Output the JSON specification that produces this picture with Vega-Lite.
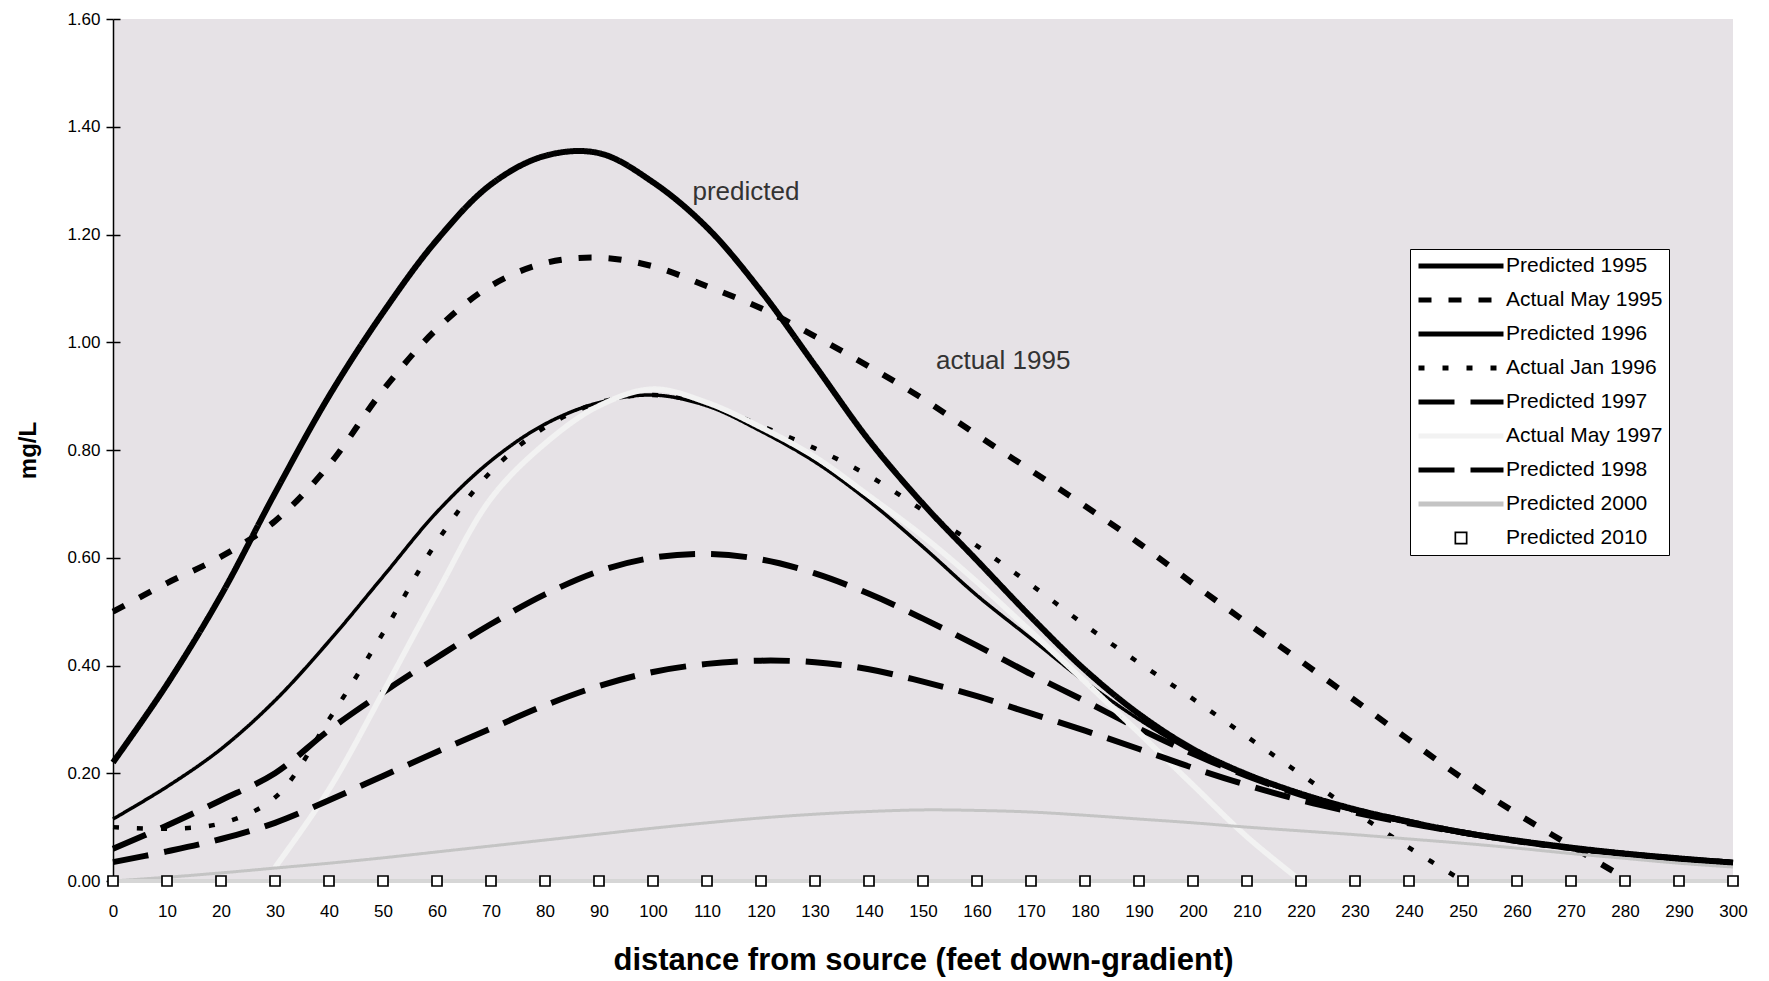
{
  "$schema": "https://vega.github.io/schema/vega-lite/v6.json",
  "width": 1620,
  "height": 862,
  "autosize": {"type": "none"},
  "padding": {"left": 113, "top": 19, "right": 36, "bottom": 100},
  "background": "white",
  "config": {
    "font": "Liberation Sans",
    "view": {"fill": "#e6e2e6", "stroke": null},
    "axis": {"grid": false, "labelFont": "Liberation Sans", "titleFont": "Liberation Sans", "labelColor": "black", "titleColor": "black"},
    "legend": {
      "orient": "none", "legendX": 1297, "legendY": 230, "padding": 6,
      "strokeColor": "black", "fillColor": "white",
      "symbolType": "stroke", "symbolSize": 7225, "symbolStrokeWidth": 5,
      "clipHeight": 22, "rowPadding": 12,
      "labelFontSize": 21, "labelFont": "Liberation Sans", "labelColor": "black",
      "labelOffset": 0, "labelLimit": 300
    }
  },
  "datasets": {
    "curves": [
      {"series": "Predicted 1995", "d": 0, "v": 0.22}, {"series": "Predicted 1995", "d": 10, "v": 0.365}, {"series": "Predicted 1995", "d": 20, "v": 0.53}, {"series": "Predicted 1995", "d": 30, "v": 0.72}, {"series": "Predicted 1995", "d": 40, "v": 0.9}, {"series": "Predicted 1995", "d": 50, "v": 1.055}, {"series": "Predicted 1995", "d": 60, "v": 1.19}, {"series": "Predicted 1995", "d": 70, "v": 1.293}, {"series": "Predicted 1995", "d": 80, "v": 1.346}, {"series": "Predicted 1995", "d": 90, "v": 1.351}, {"series": "Predicted 1995", "d": 100, "v": 1.297}, {"series": "Predicted 1995", "d": 110, "v": 1.213}, {"series": "Predicted 1995", "d": 120, "v": 1.095}, {"series": "Predicted 1995", "d": 130, "v": 0.957}, {"series": "Predicted 1995", "d": 140, "v": 0.818}, {"series": "Predicted 1995", "d": 150, "v": 0.7}, {"series": "Predicted 1995", "d": 160, "v": 0.595}, {"series": "Predicted 1995", "d": 170, "v": 0.49}, {"series": "Predicted 1995", "d": 180, "v": 0.392}, {"series": "Predicted 1995", "d": 190, "v": 0.31}, {"series": "Predicted 1995", "d": 200, "v": 0.245}, {"series": "Predicted 1995", "d": 210, "v": 0.198}, {"series": "Predicted 1995", "d": 220, "v": 0.162}, {"series": "Predicted 1995", "d": 230, "v": 0.133}, {"series": "Predicted 1995", "d": 240, "v": 0.11}, {"series": "Predicted 1995", "d": 250, "v": 0.09}, {"series": "Predicted 1995", "d": 260, "v": 0.075}, {"series": "Predicted 1995", "d": 270, "v": 0.062}, {"series": "Predicted 1995", "d": 280, "v": 0.051}, {"series": "Predicted 1995", "d": 290, "v": 0.042}, {"series": "Predicted 1995", "d": 300, "v": 0.034},

      {"series": "Actual May 1995", "d": 0, "v": 0.5}, {"series": "Actual May 1995", "d": 10, "v": 0.553}, {"series": "Actual May 1995", "d": 20, "v": 0.602}, {"series": "Actual May 1995", "d": 30, "v": 0.668}, {"series": "Actual May 1995", "d": 40, "v": 0.772}, {"series": "Actual May 1995", "d": 50, "v": 0.911}, {"series": "Actual May 1995", "d": 60, "v": 1.025}, {"series": "Actual May 1995", "d": 70, "v": 1.105}, {"series": "Actual May 1995", "d": 80, "v": 1.147}, {"series": "Actual May 1995", "d": 90, "v": 1.157}, {"series": "Actual May 1995", "d": 100, "v": 1.141}, {"series": "Actual May 1995", "d": 110, "v": 1.104}, {"series": "Actual May 1995", "d": 120, "v": 1.063}, {"series": "Actual May 1995", "d": 130, "v": 1.011}, {"series": "Actual May 1995", "d": 140, "v": 0.955}, {"series": "Actual May 1995", "d": 150, "v": 0.895}, {"series": "Actual May 1995", "d": 160, "v": 0.828}, {"series": "Actual May 1995", "d": 170, "v": 0.762}, {"series": "Actual May 1995", "d": 180, "v": 0.696}, {"series": "Actual May 1995", "d": 190, "v": 0.627}, {"series": "Actual May 1995", "d": 200, "v": 0.552}, {"series": "Actual May 1995", "d": 210, "v": 0.479}, {"series": "Actual May 1995", "d": 220, "v": 0.408}, {"series": "Actual May 1995", "d": 230, "v": 0.335}, {"series": "Actual May 1995", "d": 240, "v": 0.262}, {"series": "Actual May 1995", "d": 250, "v": 0.19}, {"series": "Actual May 1995", "d": 260, "v": 0.125}, {"series": "Actual May 1995", "d": 270, "v": 0.065}, {"series": "Actual May 1995", "d": 280, "v": 0.005},

      {"series": "Predicted 1996", "d": 0, "v": 0.115}, {"series": "Predicted 1996", "d": 10, "v": 0.175}, {"series": "Predicted 1996", "d": 20, "v": 0.245}, {"series": "Predicted 1996", "d": 30, "v": 0.335}, {"series": "Predicted 1996", "d": 40, "v": 0.445}, {"series": "Predicted 1996", "d": 50, "v": 0.565}, {"series": "Predicted 1996", "d": 60, "v": 0.685}, {"series": "Predicted 1996", "d": 70, "v": 0.78}, {"series": "Predicted 1996", "d": 80, "v": 0.848}, {"series": "Predicted 1996", "d": 90, "v": 0.888}, {"series": "Predicted 1996", "d": 100, "v": 0.902}, {"series": "Predicted 1996", "d": 110, "v": 0.882}, {"series": "Predicted 1996", "d": 120, "v": 0.835}, {"series": "Predicted 1996", "d": 130, "v": 0.778}, {"series": "Predicted 1996", "d": 140, "v": 0.705}, {"series": "Predicted 1996", "d": 150, "v": 0.62}, {"series": "Predicted 1996", "d": 160, "v": 0.53}, {"series": "Predicted 1996", "d": 170, "v": 0.45}, {"series": "Predicted 1996", "d": 180, "v": 0.37}, {"series": "Predicted 1996", "d": 190, "v": 0.3}, {"series": "Predicted 1996", "d": 200, "v": 0.24}, {"series": "Predicted 1996", "d": 210, "v": 0.195}, {"series": "Predicted 1996", "d": 220, "v": 0.16}, {"series": "Predicted 1996", "d": 230, "v": 0.13}, {"series": "Predicted 1996", "d": 240, "v": 0.107}, {"series": "Predicted 1996", "d": 250, "v": 0.088}, {"series": "Predicted 1996", "d": 260, "v": 0.073}, {"series": "Predicted 1996", "d": 270, "v": 0.06}, {"series": "Predicted 1996", "d": 280, "v": 0.05}, {"series": "Predicted 1996", "d": 290, "v": 0.041}, {"series": "Predicted 1996", "d": 300, "v": 0.033},

      {"series": "Actual Jan 1996", "d": 0, "v": 0.1}, {"series": "Actual Jan 1996", "d": 10, "v": 0.097}, {"series": "Actual Jan 1996", "d": 20, "v": 0.107}, {"series": "Actual Jan 1996", "d": 30, "v": 0.155}, {"series": "Actual Jan 1996", "d": 40, "v": 0.3}, {"series": "Actual Jan 1996", "d": 50, "v": 0.46}, {"series": "Actual Jan 1996", "d": 60, "v": 0.63}, {"series": "Actual Jan 1996", "d": 70, "v": 0.76}, {"series": "Actual Jan 1996", "d": 80, "v": 0.842}, {"series": "Actual Jan 1996", "d": 90, "v": 0.888}, {"series": "Actual Jan 1996", "d": 100, "v": 0.902}, {"series": "Actual Jan 1996", "d": 110, "v": 0.885}, {"series": "Actual Jan 1996", "d": 120, "v": 0.845}, {"series": "Actual Jan 1996", "d": 130, "v": 0.803}, {"series": "Actual Jan 1996", "d": 140, "v": 0.752}, {"series": "Actual Jan 1996", "d": 150, "v": 0.688}, {"series": "Actual Jan 1996", "d": 160, "v": 0.622}, {"series": "Actual Jan 1996", "d": 170, "v": 0.55}, {"series": "Actual Jan 1996", "d": 180, "v": 0.475}, {"series": "Actual Jan 1996", "d": 190, "v": 0.405}, {"series": "Actual Jan 1996", "d": 200, "v": 0.338}, {"series": "Actual Jan 1996", "d": 210, "v": 0.268}, {"series": "Actual Jan 1996", "d": 220, "v": 0.198}, {"series": "Actual Jan 1996", "d": 230, "v": 0.128}, {"series": "Actual Jan 1996", "d": 240, "v": 0.062}, {"series": "Actual Jan 1996", "d": 250, "v": 0.0},

      {"series": "Predicted 1997", "d": 0, "v": 0.06}, {"series": "Predicted 1997", "d": 10, "v": 0.103}, {"series": "Predicted 1997", "d": 20, "v": 0.15}, {"series": "Predicted 1997", "d": 30, "v": 0.2}, {"series": "Predicted 1997", "d": 40, "v": 0.28}, {"series": "Predicted 1997", "d": 50, "v": 0.35}, {"series": "Predicted 1997", "d": 60, "v": 0.415}, {"series": "Predicted 1997", "d": 70, "v": 0.477}, {"series": "Predicted 1997", "d": 80, "v": 0.532}, {"series": "Predicted 1997", "d": 90, "v": 0.575}, {"series": "Predicted 1997", "d": 100, "v": 0.6}, {"series": "Predicted 1997", "d": 110, "v": 0.607}, {"series": "Predicted 1997", "d": 120, "v": 0.597}, {"series": "Predicted 1997", "d": 130, "v": 0.571}, {"series": "Predicted 1997", "d": 140, "v": 0.533}, {"series": "Predicted 1997", "d": 150, "v": 0.487}, {"series": "Predicted 1997", "d": 160, "v": 0.437}, {"series": "Predicted 1997", "d": 170, "v": 0.384}, {"series": "Predicted 1997", "d": 180, "v": 0.334}, {"series": "Predicted 1997", "d": 190, "v": 0.283}, {"series": "Predicted 1997", "d": 200, "v": 0.236}, {"series": "Predicted 1997", "d": 210, "v": 0.195}, {"series": "Predicted 1997", "d": 220, "v": 0.16}, {"series": "Predicted 1997", "d": 230, "v": 0.132}, {"series": "Predicted 1997", "d": 240, "v": 0.11}, {"series": "Predicted 1997", "d": 250, "v": 0.09}, {"series": "Predicted 1997", "d": 260, "v": 0.074}, {"series": "Predicted 1997", "d": 270, "v": 0.061}, {"series": "Predicted 1997", "d": 280, "v": 0.05}, {"series": "Predicted 1997", "d": 290, "v": 0.041}, {"series": "Predicted 1997", "d": 300, "v": 0.034},

      {"series": "Actual May 1997", "d": 30, "v": 0.025}, {"series": "Actual May 1997", "d": 40, "v": 0.17}, {"series": "Actual May 1997", "d": 50, "v": 0.35}, {"series": "Actual May 1997", "d": 60, "v": 0.535}, {"series": "Actual May 1997", "d": 70, "v": 0.71}, {"series": "Actual May 1997", "d": 80, "v": 0.812}, {"series": "Actual May 1997", "d": 90, "v": 0.882}, {"series": "Actual May 1997", "d": 100, "v": 0.913}, {"series": "Actual May 1997", "d": 110, "v": 0.888}, {"series": "Actual May 1997", "d": 120, "v": 0.842}, {"series": "Actual May 1997", "d": 130, "v": 0.787}, {"series": "Actual May 1997", "d": 140, "v": 0.715}, {"series": "Actual May 1997", "d": 150, "v": 0.64}, {"series": "Actual May 1997", "d": 160, "v": 0.555}, {"series": "Actual May 1997", "d": 170, "v": 0.463}, {"series": "Actual May 1997", "d": 180, "v": 0.37}, {"series": "Actual May 1997", "d": 190, "v": 0.275}, {"series": "Actual May 1997", "d": 200, "v": 0.178}, {"series": "Actual May 1997", "d": 210, "v": 0.082}, {"series": "Actual May 1997", "d": 220, "v": 0.0},

      {"series": "Predicted 1998", "d": 0, "v": 0.035}, {"series": "Predicted 1998", "d": 10, "v": 0.055}, {"series": "Predicted 1998", "d": 20, "v": 0.078}, {"series": "Predicted 1998", "d": 30, "v": 0.108}, {"series": "Predicted 1998", "d": 40, "v": 0.15}, {"series": "Predicted 1998", "d": 50, "v": 0.195}, {"series": "Predicted 1998", "d": 60, "v": 0.24}, {"series": "Predicted 1998", "d": 70, "v": 0.283}, {"series": "Predicted 1998", "d": 80, "v": 0.326}, {"series": "Predicted 1998", "d": 90, "v": 0.362}, {"series": "Predicted 1998", "d": 100, "v": 0.388}, {"series": "Predicted 1998", "d": 110, "v": 0.403}, {"series": "Predicted 1998", "d": 120, "v": 0.409}, {"series": "Predicted 1998", "d": 130, "v": 0.406}, {"series": "Predicted 1998", "d": 140, "v": 0.393}, {"series": "Predicted 1998", "d": 150, "v": 0.37}, {"series": "Predicted 1998", "d": 160, "v": 0.343}, {"series": "Predicted 1998", "d": 170, "v": 0.311}, {"series": "Predicted 1998", "d": 180, "v": 0.279}, {"series": "Predicted 1998", "d": 190, "v": 0.245}, {"series": "Predicted 1998", "d": 200, "v": 0.21}, {"series": "Predicted 1998", "d": 210, "v": 0.178}, {"series": "Predicted 1998", "d": 220, "v": 0.15}, {"series": "Predicted 1998", "d": 230, "v": 0.127}, {"series": "Predicted 1998", "d": 240, "v": 0.107}, {"series": "Predicted 1998", "d": 250, "v": 0.09}, {"series": "Predicted 1998", "d": 260, "v": 0.074}, {"series": "Predicted 1998", "d": 270, "v": 0.061}, {"series": "Predicted 1998", "d": 280, "v": 0.05}, {"series": "Predicted 1998", "d": 290, "v": 0.041}, {"series": "Predicted 1998", "d": 300, "v": 0.034},

      {"series": "Predicted 2000", "d": 0, "v": 0.0}, {"series": "Predicted 2000", "d": 10, "v": 0.007}, {"series": "Predicted 2000", "d": 20, "v": 0.015}, {"series": "Predicted 2000", "d": 30, "v": 0.024}, {"series": "Predicted 2000", "d": 40, "v": 0.033}, {"series": "Predicted 2000", "d": 50, "v": 0.043}, {"series": "Predicted 2000", "d": 60, "v": 0.054}, {"series": "Predicted 2000", "d": 70, "v": 0.065}, {"series": "Predicted 2000", "d": 80, "v": 0.076}, {"series": "Predicted 2000", "d": 90, "v": 0.087}, {"series": "Predicted 2000", "d": 100, "v": 0.098}, {"series": "Predicted 2000", "d": 110, "v": 0.108}, {"series": "Predicted 2000", "d": 120, "v": 0.117}, {"series": "Predicted 2000", "d": 130, "v": 0.124}, {"series": "Predicted 2000", "d": 140, "v": 0.129}, {"series": "Predicted 2000", "d": 150, "v": 0.132}, {"series": "Predicted 2000", "d": 160, "v": 0.131}, {"series": "Predicted 2000", "d": 170, "v": 0.128}, {"series": "Predicted 2000", "d": 180, "v": 0.122}, {"series": "Predicted 2000", "d": 190, "v": 0.115}, {"series": "Predicted 2000", "d": 200, "v": 0.108}, {"series": "Predicted 2000", "d": 210, "v": 0.1}, {"series": "Predicted 2000", "d": 220, "v": 0.093}, {"series": "Predicted 2000", "d": 230, "v": 0.086}, {"series": "Predicted 2000", "d": 240, "v": 0.078}, {"series": "Predicted 2000", "d": 250, "v": 0.07}, {"series": "Predicted 2000", "d": 260, "v": 0.061}, {"series": "Predicted 2000", "d": 270, "v": 0.051}, {"series": "Predicted 2000", "d": 280, "v": 0.042}, {"series": "Predicted 2000", "d": 290, "v": 0.033}, {"series": "Predicted 2000", "d": 300, "v": 0.026},

      {"series": "Predicted 2010", "d": 0, "v": 0}, {"series": "Predicted 2010", "d": 10, "v": 0}, {"series": "Predicted 2010", "d": 20, "v": 0}, {"series": "Predicted 2010", "d": 30, "v": 0}, {"series": "Predicted 2010", "d": 40, "v": 0}, {"series": "Predicted 2010", "d": 50, "v": 0}, {"series": "Predicted 2010", "d": 60, "v": 0}, {"series": "Predicted 2010", "d": 70, "v": 0}, {"series": "Predicted 2010", "d": 80, "v": 0}, {"series": "Predicted 2010", "d": 90, "v": 0}, {"series": "Predicted 2010", "d": 100, "v": 0}, {"series": "Predicted 2010", "d": 110, "v": 0}, {"series": "Predicted 2010", "d": 120, "v": 0}, {"series": "Predicted 2010", "d": 130, "v": 0}, {"series": "Predicted 2010", "d": 140, "v": 0}, {"series": "Predicted 2010", "d": 150, "v": 0}, {"series": "Predicted 2010", "d": 160, "v": 0}, {"series": "Predicted 2010", "d": 170, "v": 0}, {"series": "Predicted 2010", "d": 180, "v": 0}, {"series": "Predicted 2010", "d": 190, "v": 0}, {"series": "Predicted 2010", "d": 200, "v": 0}, {"series": "Predicted 2010", "d": 210, "v": 0}, {"series": "Predicted 2010", "d": 220, "v": 0}, {"series": "Predicted 2010", "d": 230, "v": 0}, {"series": "Predicted 2010", "d": 240, "v": 0}, {"series": "Predicted 2010", "d": 250, "v": 0}, {"series": "Predicted 2010", "d": 260, "v": 0}, {"series": "Predicted 2010", "d": 270, "v": 0}, {"series": "Predicted 2010", "d": 280, "v": 0}, {"series": "Predicted 2010", "d": 290, "v": 0}, {"series": "Predicted 2010", "d": 300, "v": 0}
    ],
    "notes": [
      {"label": "predicted", "d": 107.3, "v": 1.279},
      {"label": "actual 1995", "d": 152.4, "v": 0.965}
    ]
  },
  "resolve": {"axis": {"y": "independent"}},
  "layer": [
    {
      "data": {"name": "curves"},
      "mark": {"type": "line", "interpolate": "catmull-rom", "clip": false},
      "encoding": {
        "x": {
          "field": "d", "type": "quantitative",
          "scale": {"domain": [0, 300], "nice": false, "zero": false},
          "axis": {
            "values": [0,10,20,30,40,50,60,70,80,90,100,110,120,130,140,150,160,170,180,190,200,210,220,230,240,250,260,270,280,290,300],
            "ticks": false, "tickSize": 0, "domain": false,
            "labelFontSize": 17, "labelPadding": 22, "labelFlush": false, "labelOverlap": false,
            "title": "distance from source (feet down-gradient)",
            "titleFontSize": 31, "titleFontWeight": "bold", "titleY": 79, "titleBaseline": "middle"
          }
        },
        "y": {
          "field": "v", "type": "quantitative",
          "scale": {"domain": [0, 1.6], "nice": false},
          "axis": {
            "values": [0, 0.2, 0.4, 0.6, 0.8, 1.0, 1.2, 1.4, 1.6], "format": ".2f",
            "title": "mg/L", "titleFontSize": 24, "titleFontWeight": "bold",
            "titleX": -85, "titleY": 431, "titleAngle": 270, "titleBaseline": "middle", "titleAlign": "center",
            "labelFontSize": 17, "labelPadding": 6,
            "tickSize": 7, "tickColor": "black", "tickWidth": 1.5,
            "domainColor": "black", "domainWidth": 1.5
          }
        },
        "stroke": {
          "field": "series", "type": "nominal",
          "scale": {
            "domain": ["Predicted 1995", "Actual May 1995", "Predicted 1996", "Actual Jan 1996", "Predicted 1997", "Actual May 1997", "Predicted 1998", "Predicted 2000", "Predicted 2010"],
            "range": ["#000000", "#000000", "#000000", "#000000", "#000000", "#f2f2f2", "#000000", "#c4c4c4", "#d6d6d6"]
          },
          "legend": {
            "title": null,
            "encode": {
              "symbols": {
                "update": {
                  "shape": {"signal": "datum.value === 'Predicted 2010' ? 'M-0.153,-0.153H0.153V0.153H-0.153Z M-0.113,-0.113V0.113H0.113V-0.113Z' : 'stroke'"},
                  "strokeOpacity": {"signal": "datum.value === 'Predicted 2010' ? 0 : 1"},
                  "fill": {"signal": "datum.value === 'Predicted 2010' ? 'black' : 'transparent'"}
                }
              }
            }
          }
        },
        "strokeDash": {
          "field": "series", "type": "nominal",
          "scale": {
            "domain": ["Predicted 1995", "Actual May 1995", "Predicted 1996", "Actual Jan 1996", "Predicted 1997", "Actual May 1997", "Predicted 1998", "Predicted 2000", "Predicted 2010"],
            "range": [[1, 0], [13, 17], [1, 0], [6, 18], [36, 16], [1, 0], [36, 16], [1, 0], [1, 0]]
          },
          "legend": {"title": null}
        },
        "strokeWidth": {
          "condition": [
            {"test": "datum.series === 'Predicted 1996'", "value": 3.5},
            {"test": "datum.series === 'Actual Jan 1996'", "value": 4.5},
            {"test": "datum.series === 'Actual May 1997'", "value": 5.5},
            {"test": "datum.series === 'Predicted 2000'", "value": 3},
            {"test": "datum.series === 'Predicted 2010'", "value": 4}
          ],
          "value": 6
        }
      }
    },
    {
      "data": {"name": "curves"},
      "transform": [{"filter": "datum.series === 'Predicted 2010'"}],
      "mark": {"type": "point", "shape": "square", "filled": true, "fill": "white", "stroke": "black", "strokeWidth": 1.7, "size": 100, "opacity": 1, "clip": false},
      "encoding": {
        "x": {"field": "d", "type": "quantitative"},
        "y": {
          "field": "v", "type": "quantitative",
          "axis": {
            "values": [0, 0.2, 0.4, 0.6, 0.8, 1.0, 1.2, 1.4, 1.6],
            "orient": "left", "labels": false, "title": null, "domain": false,
            "tickSize": -7, "tickColor": "black", "tickWidth": 1.5
          }
        }
      }
    },
    {
      "data": {"name": "notes"},
      "mark": {"type": "text", "align": "left", "baseline": "middle", "fontSize": 26, "font": "Liberation Sans", "color": "#333333"},
      "encoding": {
        "x": {"field": "d", "type": "quantitative"},
        "y": {"field": "v", "type": "quantitative", "axis": null},
        "text": {"field": "label"}
      }
    }
  ]
}
